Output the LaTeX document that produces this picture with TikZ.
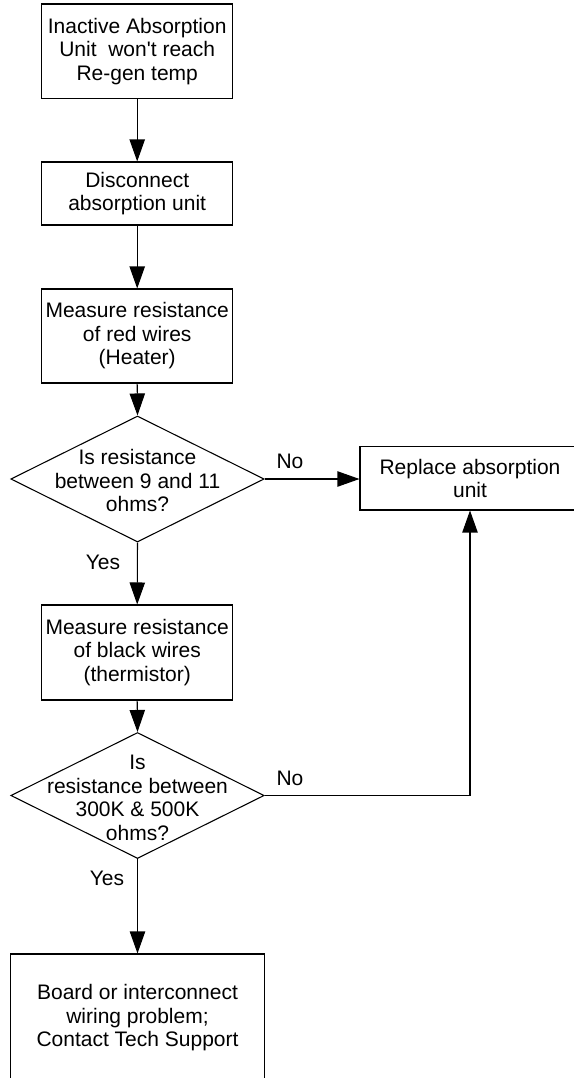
\documentclass[tikz,border=0pt]{standalone}
\usepackage{fontspec}
\setmainfont{Liberation Sans}
\usetikzlibrary{arrows.meta,shapes.geometric}
\begin{document}
\begin{tikzpicture}[x=0.75pt,y=-0.75pt,
  font=\fontsize{15.75}{17.6}\selectfont,
  box/.style={draw=black,line width=0.8pt,align=center,inner sep=0pt},
  dia/.style={draw=black,line width=0.8pt,diamond,inner sep=0pt,minimum width=190pt,minimum height=94.5pt},
  txt/.style={align=center,inner sep=0pt},
  lbl/.style={inner sep=0pt},
  arr/.style={line width=0.8pt,-{Triangle[length=16.5pt,width=11.5pt]}},
  ln/.style={line width=0.8pt}
]
\clip (0,0) rectangle (574,1078);
\node[box,minimum width=143.25pt,minimum height=71pt] (b1) at (137.2,51.3) {Inactive Absorption\\Unit\ \ won\textquotesingle t reach\\Re-gen temp};
\node[box,minimum width=143.25pt,minimum height=47.25pt] (b2) at (137.2,193.5) {Disconnect\\absorption unit};
\node[box,minimum width=143.25pt,minimum height=70.5pt] (b3) at (137.2,336) {Measure resistance\\of red wires\\(Heater)};
\node[dia] (d1) at (137.5,479) {};
\node[txt] (d1t) at (137.5,480.5) {Is resistance\\between 9 and 11\\ohms?};
\node[box,minimum width=165pt,minimum height=47.5pt] (r) at (470,478.3) {Replace absorption\\unit};
\node[box,minimum width=143.25pt,minimum height=71.25pt] (b4) at (137.2,652.5) {Measure resistance\\of black wires\\(thermistor)};
\node[dia] (d2) at (137.5,795.5) {};
\node[txt] (d2t) at (137.5,798) {Is\\resistance between\\300K \& 500K\\ohms?};
\node[box,minimum width=190.2pt,minimum height=96pt] (b5) at (137.5,1018) {Board or interconnect\\wiring problem;\\Contact Tech Support};
\node[lbl] (no1) at (290,461.5) {No};
\node[lbl] (no2) at (290,778) {No};
\node[lbl] (yes1) at (103,562) {Yes};
\node[lbl] (yes2) at (107,878) {Yes};
\draw[arr] (b1) -- (b2);
\draw[arr] (b2) -- (b3);
\draw[arr] (b3.south) -- (d1.north);
\draw[arr] (d1.east) -- (d1.east -| r.west);
\draw[arr] (d1.south) -- (b4.north);
\draw[arr] (b4.south) -- (d2.north);
\draw[arr] (d2.east) -| (r.south);
\draw[arr] (d2.south) -- (b5.north);
\end{tikzpicture}
\end{document}
